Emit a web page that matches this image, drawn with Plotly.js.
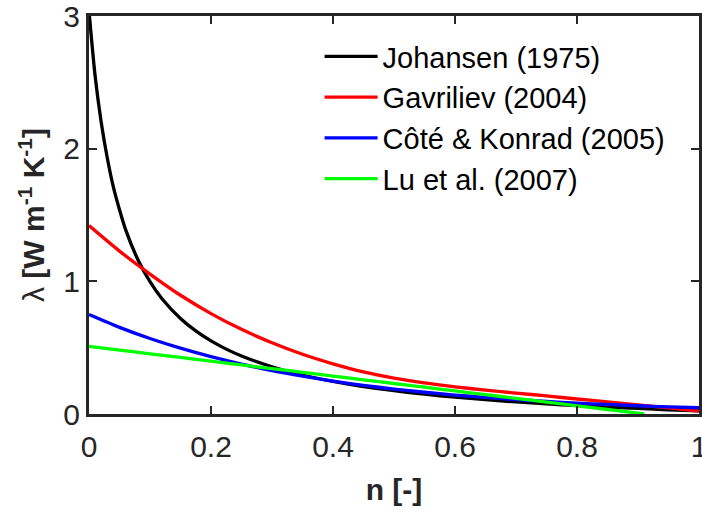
<!DOCTYPE html>
<html>
<head>
<meta charset="utf-8">
<script src="https://cdn.plot.ly/plotly-3.0.1.min.js"></script>
<style>html,body{margin:0;padding:0;background:#fff;}#chart{width:702px;height:511px;}</style>
</head>
<body>
<div id="chart"></div>
<script>
// Porosity n [-]
const nJohansen = [0, 0.01, 0.02, 0.03, 0.04, 0.05, 0.06, 0.08, 0.10, 0.12, 0.15, 0.175, 0.20, 0.225, 0.25, 0.30, 0.35, 0.40, 0.45, 0.50, 0.55, 0.60, 0.65, 0.70, 0.75, 0.80, 0.85, 0.90, 0.95, 1.00];
const lamJohansen = [3.04, 2.55, 2.20, 1.93, 1.71, 1.54, 1.39, 1.165, 0.997, 0.867, 0.720, 0.626, 0.551, 0.489, 0.437, 0.356, 0.294, 0.246, 0.207, 0.176, 0.149, 0.127, 0.108, 0.091, 0.076, 0.063, 0.052, 0.042, 0.032, 0.024];

const nStd = [0, 0.05, 0.10, 0.15, 0.20, 0.25, 0.30, 0.35, 0.40, 0.45, 0.50, 0.55, 0.60, 0.65, 0.70, 0.75, 0.80, 0.85, 0.90, 0.95, 1.00];
const lamGavriliev = [1.42, 1.228, 1.055, 0.895, 0.757, 0.638, 0.537, 0.450, 0.378, 0.317, 0.270, 0.234, 0.205, 0.180, 0.158, 0.136, 0.113, 0.092, 0.069, 0.046, 0.022];
const lamCote = [0.75, 0.653, 0.569, 0.496, 0.432, 0.376, 0.327, 0.285, 0.248, 0.216, 0.188, 0.164, 0.143, 0.125, 0.109, 0.095, 0.082, 0.072, 0.062, 0.054, 0.047];

const nLu = [0, 0.05, 0.10, 0.15, 0.20, 0.25, 0.30, 0.35, 0.40, 0.45, 0.50, 0.55, 0.60, 0.65, 0.70, 0.75, 0.80, 0.85, 0.90, 0.91];
const lamLu = [0.51, 0.482, 0.454, 0.426, 0.398, 0.37, 0.342, 0.314, 0.286, 0.258, 0.23, 0.202, 0.174, 0.146, 0.118, 0.09, 0.062, 0.034, 0.006, 0.0004];

const seriesNames = ["Johansen (1975)", "Gavriliev (2004)", "Côté &amp; Konrad (2005)", "Lu et al. (2007)"];
const seriesColors = ["#000000", "#ff0000", "#0000ff", "#00ff00"];

const xTicks = [0, 0.2, 0.4, 0.6, 0.8, 1];
const xTickText = ["0", "0.2", "0.4", "0.6", "0.8", "1"];
const yTicks = [0, 1, 2, 3];
const yTickText = ["0", "1", "2", "3"];

const xs = [nJohansen, nStd, nStd, nLu];
const ys = [lamJohansen, lamGavriliev, lamCote, lamLu];

const traces = xs.map((x, i) => ({
  x: x, y: ys[i], type: "scatter", mode: "lines",
  name: seriesNames[i],
  line: {color: seriesColors[i], width: 3.3, shape: "spline", smoothing: 0.8}
}));

const axisCommon = {
  showline: true, linecolor: "#262626", linewidth: 3, mirror: "ticks",
  ticks: "inside", ticklen: 8, tickwidth: 2, tickcolor: "#262626",
  showgrid: false, zeroline: false, ticklabeloverflow: "allow",
  tickfont: {family: "Liberation Sans, Arial, sans-serif", size: 30, color: "#262626"}
};

const layout = {
  width: 702, height: 511,
  margin: {l: 89, r: 3, t: 16, b: 97},
  paper_bgcolor: "#ffffff", plot_bgcolor: "#ffffff",
  showlegend: true,
  legend: {
    x: 0.378, y: 0.962, xanchor: "left", yanchor: "top",
    bgcolor: "rgba(0,0,0,0)", borderwidth: 0,
    font: {family: "Liberation Sans, Arial, sans-serif", size: 29, color: "#000000"},
    itemwidth: 53
  },
  xaxis: Object.assign({}, axisCommon, {
    range: [0, 1], tickmode: "array", tickvals: xTicks, ticktext: xTickText,
    ticklabelstandoff: 4,
    title: {text: "<b>n [-]</b>", standoff: 17,
      font: {family: "Liberation Sans, Arial, sans-serif", size: 30, color: "#262626"}}
  }),
  yaxis: Object.assign({}, axisCommon, {
    range: [0, 3], tickmode: "array", tickvals: yTicks, ticktext: yTickText,
    title: {text: "λ <b>[W m<sup>-1</sup> K<sup>-1</sup>]</b>", standoff: 10,
      font: {family: "Liberation Sans, Arial, sans-serif", size: 30, color: "#262626"}}
  })
};

Plotly.newPlot("chart", traces, layout, {staticPlot: true, displayModeBar: false});
</script>
</body>
</html>
